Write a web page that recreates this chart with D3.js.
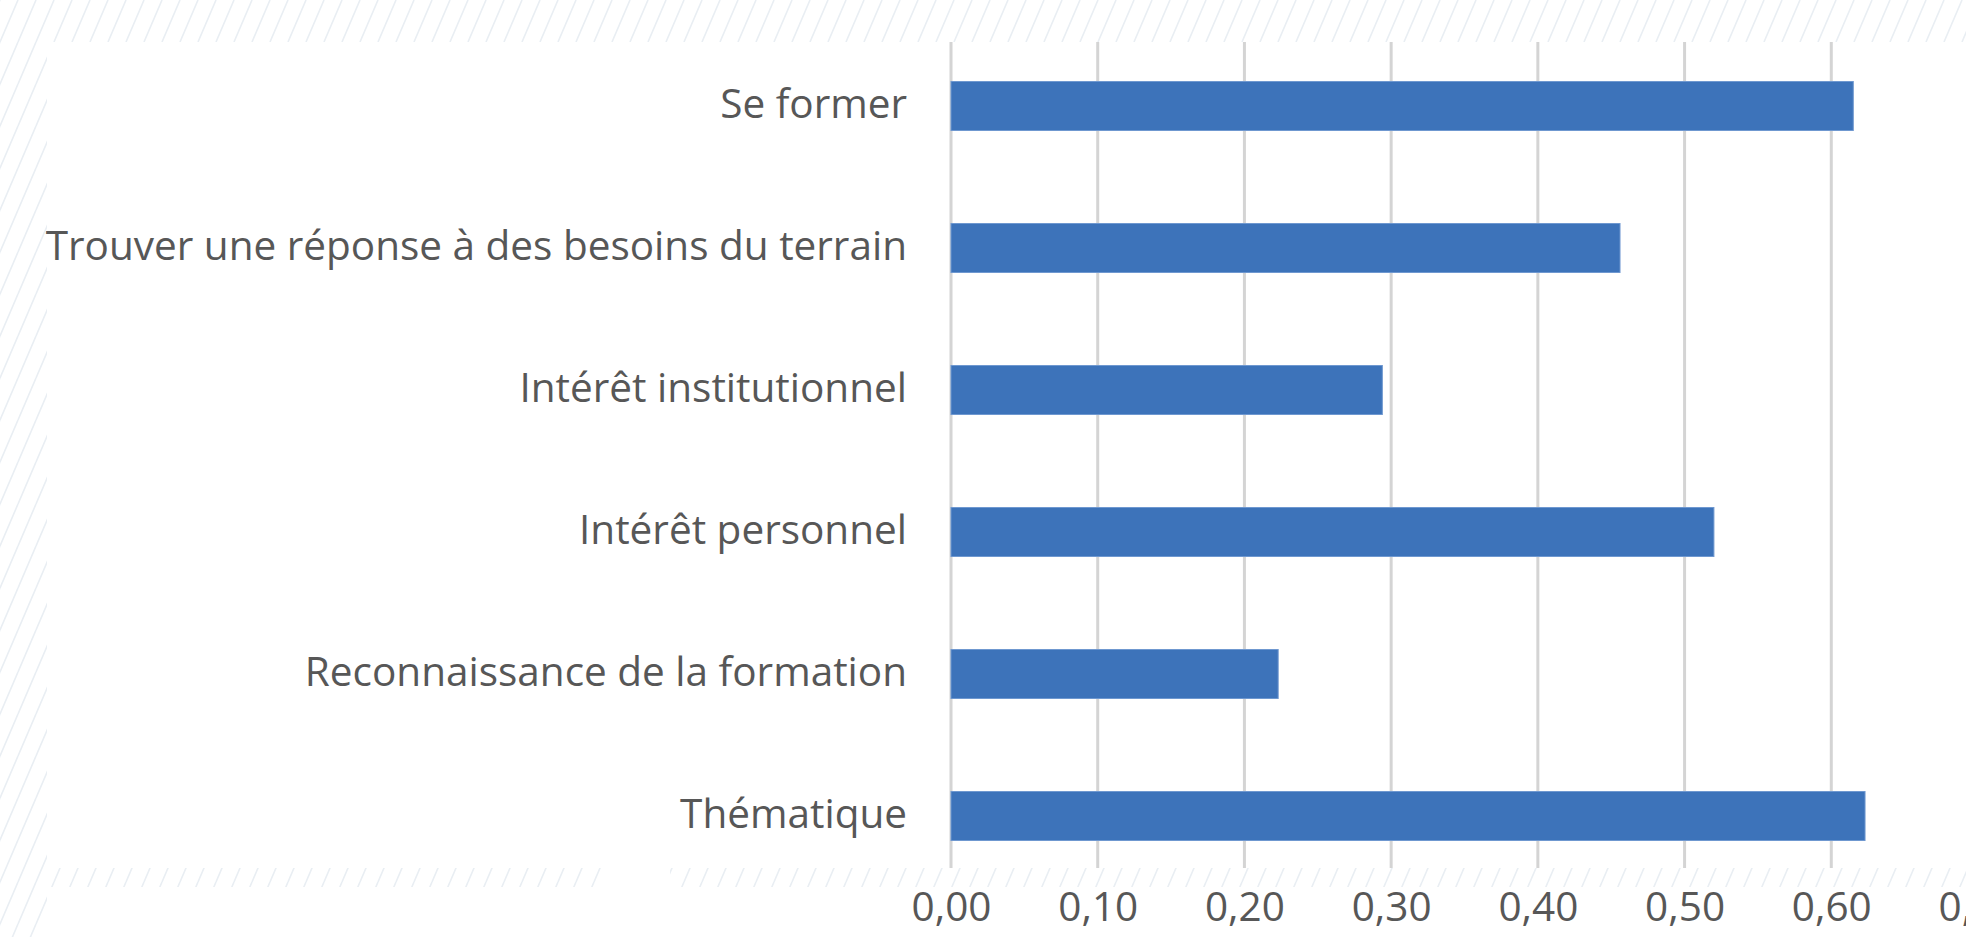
<!DOCTYPE html>
<html>
<head>
<meta charset="utf-8">
<script src="https://cdn.jsdelivr.net/npm/d3@7"></script>
<style>
  html, body { margin: 0; padding: 0; background: #fff; }
  svg { display: block; }
  .axis text { font-family: "Open Sans", Lato, sans-serif; fill: #575757; font-variant-ligatures: none; }
</style>
</head>
<body>
<div id="chart"></div>
<script>
// data
const categories = [
    'Se former',
    'Trouver une réponse à des besoins du terrain',
    'Intérêt institutionnel',
    'Intérêt personnel',
    'Reconnaissance de la formation',
    'Thématique'
];
const values = [0.615, 0.456, 0.294, 0.52, 0.223, 0.623];
const xTicks = [0, 0.1, 0.2, 0.3, 0.4, 0.5, 0.6, 0.7];

const W = 1966, H = 937;
const margin = { top: 35, right: -12, bottom: 50, left: 951 };
const width = W - margin.left - margin.right;
const height = H - margin.top - margin.bottom;

const svg = d3.select('#chart')
    .append('svg')
    .attr('width', W)
    .attr('height', H);

// hatch pattern for the slide decoration
const defs = svg.append('defs');
const pat = defs.append('pattern')
    .attr('id', 'hatch')
    .attr('patternUnits', 'userSpaceOnUse')
    .attr('width', 18)
    .attr('height', 42);
[[-18, 0], [0, 0], [18, 0]].forEach(o => {
    pat.append('line')
        .attr('x1', o[0]).attr('y1', 42)
        .attr('x2', o[0] + 18).attr('y2', 0)
        .attr('stroke', '#e9eef3')
        .attr('stroke-width', 1.6);
});

const group = svg.append('g')
    .attr('transform', 'translate(' + margin.left + ',' + margin.top + ')');

const xScale = d3.scaleLinear().domain([0, 0.7]).range([0, width]);
const yScale = d3.scaleBand().domain(categories).range([0, height])
    .paddingInner(0.655).paddingOuter(0.3275);

const fr = d3.formatLocale({ decimal: ',', thousands: ' ', grouping: [3], currency: ['', ' €'] });

// gridlines
group.append('g')
    .attr('class', 'grid')
    .selectAll('line')
    .data(xTicks)
    .join('line')
    .attr('x1', d => xScale(d))
    .attr('x2', d => xScale(d))
    .attr('y1', 0)
    .attr('y2', height)
    .attr('stroke', '#d4d4d4')
    .attr('stroke-width', 3);

// bars
group.selectAll('rect.bar')
    .data(values)
    .join('rect')
    .attr('class', 'bar')
    .attr('x', xScale(0))
    .attr('y', (d, i) => yScale(categories[i]))
    .attr('width', d => xScale(d) - xScale(0))
    .attr('height', yScale.bandwidth())
    .attr('fill', '#3d73ba')
    .attr('stroke', '#6f98d0')
    .attr('stroke-width', 1);

// decorative bands (drawn over the plot edges)
const bands = svg.append('g');
bands.append('rect').attr('x', 0).attr('y', 0).attr('width', W).attr('height', 42)
    .attr('fill', '#fff');
bands.append('rect').attr('x', 0).attr('y', 0).attr('width', W).attr('height', 42)
    .attr('fill', 'url(#hatch)');
bands.append('rect').attr('x', 0).attr('y', 42).attr('width', 47).attr('height', H - 42)
    .attr('fill', 'url(#hatch)');
bands.append('rect').attr('x', 47).attr('y', 868).attr('width', W - 47).attr('height', 19)
    .attr('fill', '#fff');
bands.append('rect').attr('x', 47).attr('y', 868).attr('width', 560).attr('height', 19)
    .attr('fill', 'url(#hatch)');
bands.append('rect').attr('x', 670).attr('y', 868).attr('width', W - 670).attr('height', 19)
    .attr('fill', 'url(#hatch)');

// y axis labels
const yAxis = d3.axisLeft(yScale).tickSize(0).tickPadding(44);
const yAxisGroup = group.append('g').attr('class', 'y-axis axis').call(yAxis);
yAxisGroup.select('.domain').remove();
yAxisGroup.selectAll('text')
    .style('font-size', '40.5px')
    .attr('dy', '0.29em');

// x axis labels
const xAxis = d3.axisBottom(xScale).tickValues(xTicks).tickSize(0).tickPadding(0)
    .tickFormat(fr.format('.2f'));
const xAxisGroup = svg.append('g')
    .attr('class', 'x-axis axis')
    .attr('transform', 'translate(' + margin.left + ',' + 906 + ')')
    .call(xAxis);
xAxisGroup.select('.domain').remove();
xAxisGroup.selectAll('text')
    .style('font-size', '40.5px')
    .attr('y', 0)
    .attr('dy', '0.36em');
</script>
</body>
</html>
